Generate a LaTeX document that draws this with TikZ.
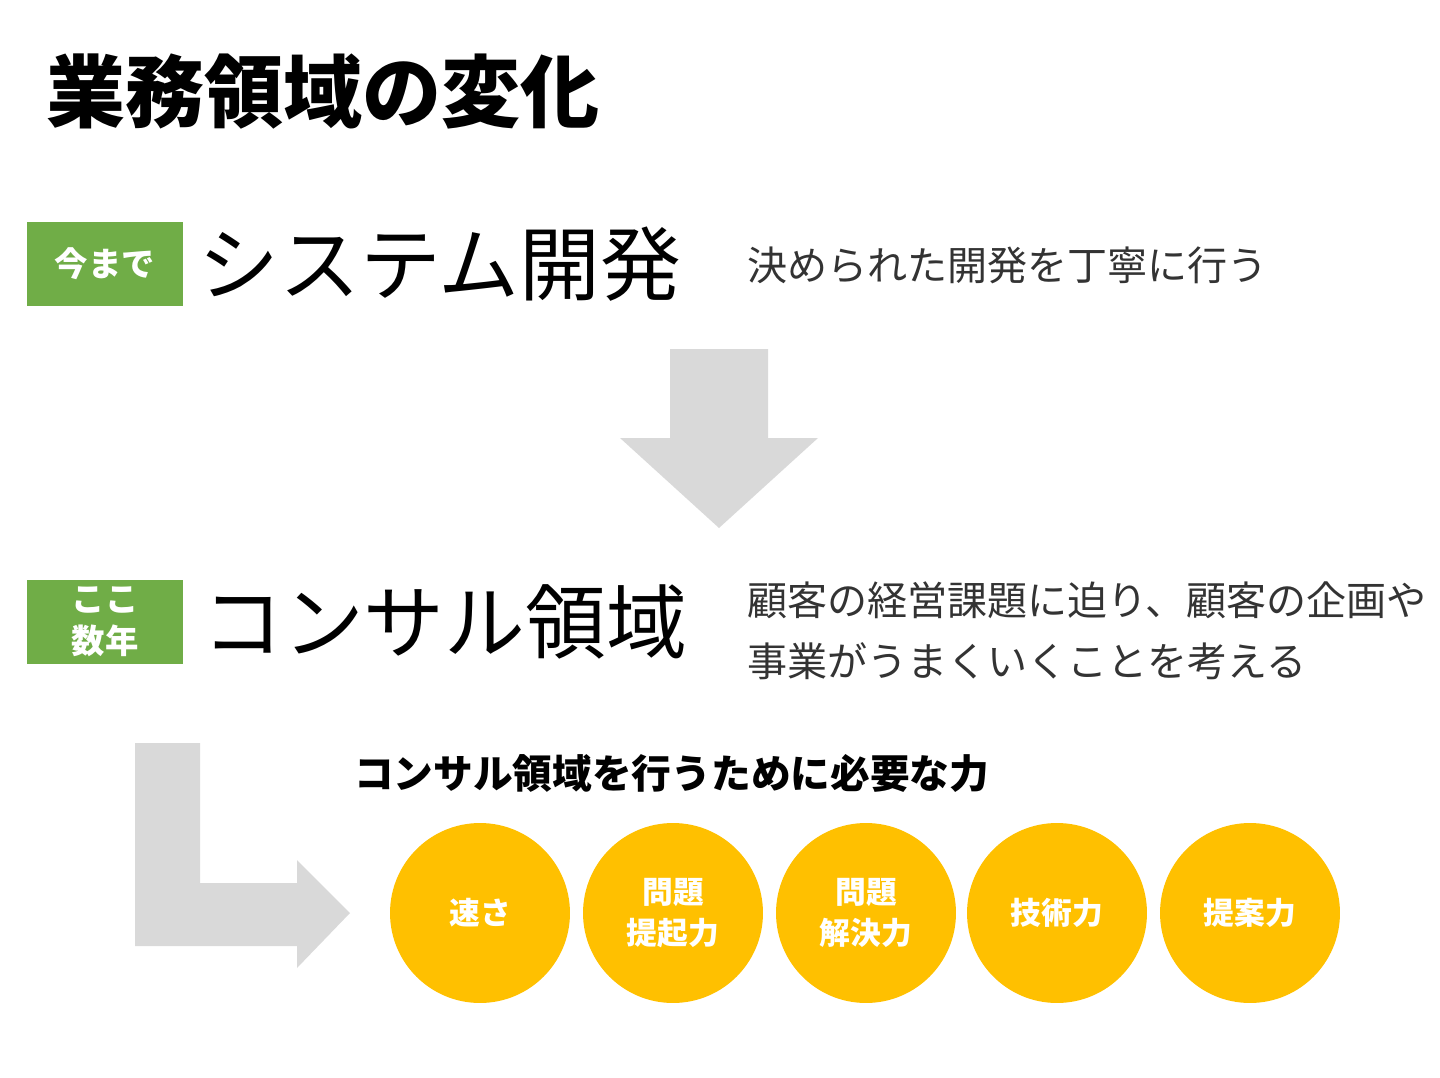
\documentclass[tikz,border=0pt]{standalone}
\usepackage{fontspec}
\setmainfont{Noto Sans CJK JP}
\usepackage{xcolor}
\usetikzlibrary{positioning}
\definecolor{tagGreen}{HTML}{70AD47}
\definecolor{skillYellow}{HTML}{FFC000}
\definecolor{arrowGray}{HTML}{D9D9D9}

\begin{document}
\begin{tikzpicture}[
    x=0.02cm,
    y=-0.02cm,
    every node/.style={inner sep=0pt, outer sep=0pt},
    title/.style={font=\fontsize{45}{50}\selectfont\bfseries, anchor=west},
    tagbox/.style={fill=tagGreen, text=white, minimum width=3.12cm, minimum height=1.68cm,
      align=center, font=\fontsize{19}{24}\selectfont\bfseries},
    phase/.style={font=\fontsize{46}{50}\selectfont, anchor=west},
    desc/.style={font=\fontsize{22.8}{35}\selectfont, text=black!80, anchor=west, align=left},
    heading/.style={font=\fontsize{22.6}{26}\selectfont\bfseries, anchor=west},
    skill/.style={circle, fill=skillYellow, text=white, minimum size=3.6cm, align=center,
      font=\fontsize{17.5}{23}\selectfont\bfseries},
    blockarrow/.style={fill=arrowGray, draw=none}
  ]
  \useasboundingbox (0,0) rectangle (1440,1078);

  %
  \node[title] (ttl) at (46,92) {業務領域の変化};

  %
  \node[tagbox] (tagpast) at (105,264) {今まで};
  \node[phase, right=9pt of tagpast] (past) {システム開発};
  \node[desc] (pastdesc) at (747,265) {決められた開発を丁寧に行う};

  %
  \coordinate (down) at (719,349);
  \fill[blockarrow] (670,349) -- (768,349) -- (768,438) -- (818,438)
    -- (719,528) -- (620,438) -- (670,438) -- cycle;

  %
  \node[tagbox] (tagnow) at (105,622) {ここ\\数年};
  \node[phase, right=11pt of tagnow] (now) {コンサル領域};
  \node[desc] (nowdesc) at (747,631) {顧客の経営課題に迫り、顧客の企画や\\事業がうまくいくことを考える};

  %
  \fill[blockarrow] (135,743) -- (200,743) -- (200,883) -- (297,883) -- (297,860)
    -- (350,913) -- (297,968) -- (297,946) -- (135,946) -- cycle;

  \node[heading] (need) at (354,773) {コンサル領域を行うために必要な力};

  %
  \node[skill] (speed) at (480,913) {速さ};
  \node[skill] (raise) at (673,913) {問題\\提起力};
  \node[skill] (solve) at (866,913) {問題\\解決力};
  \node[skill] (tech) at (1057,913) {技術力};
  \node[skill] (prop) at (1250,913) {提案力};
\end{tikzpicture}
\end{document}
